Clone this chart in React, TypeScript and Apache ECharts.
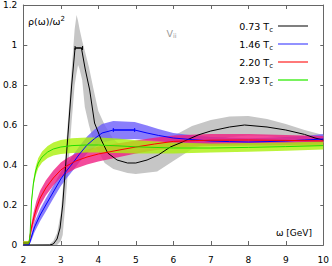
import React, { useEffect, useRef } from 'react';
import * as echarts from 'echarts';

const FONT = 'DejaVu Sans';

// 0.73 Tc (black line, gray band)
const x073 = [2.0, 2.5, 2.7, 2.8, 2.9, 2.98, 3.05, 3.13, 3.21, 3.29, 3.38, 3.55, 3.65, 3.77, 3.9, 4.08, 4.25, 4.5, 4.78, 5.0, 5.3, 5.6, 5.92, 6.18, 6.66, 7.0, 7.5, 7.9, 8.5, 9.0, 9.5, 9.78, 10];
const mid073 = [0, 0, 0, 0.005, 0.03, 0.085, 0.2, 0.4, 0.6, 0.8, 0.985, 0.985, 0.88, 0.775, 0.61, 0.525, 0.46, 0.425, 0.41, 0.41, 0.425, 0.45, 0.49, 0.51, 0.55, 0.57, 0.59, 0.6, 0.59, 0.575, 0.553, 0.535, 0.525];
const bandX073 = [2.0, 2.7, 2.8, 2.9, 3.0, 3.05, 3.13, 3.21, 3.29, 3.37, 3.42, 3.46, 3.5, 3.57, 3.64, 3.75, 3.86, 4.0, 4.17, 4.4, 4.78, 5.0, 5.57, 6.0, 6.5, 7.0, 7.5, 8.0, 8.5, 9.0, 9.5, 10];
const lo073 = [0, 0, 0, 0, 0.02, 0.05, 0.22, 0.42, 0.62, 0.8, 0.86, 0.9, 0.88, 0.825, 0.69, 0.6, 0.525, 0.47, 0.41, 0.38, 0.36, 0.355, 0.367, 0.42, 0.48, 0.515, 0.54, 0.548, 0.545, 0.535, 0.52, 0.51];
const hi073 = [0, 0.005, 0.02, 0.06, 0.16, 0.27, 0.47, 0.67, 0.88, 1.08, 1.15, 1.12, 1.08, 1.02, 0.97, 0.89, 0.79, 0.67, 0.6, 0.53, 0.47, 0.465, 0.49, 0.545, 0.595, 0.625, 0.643, 0.645, 0.63, 0.605, 0.575, 0.55];

// 1.46 Tc (blue)
const x146 = [2.0, 2.15, 2.2, 2.3, 2.45, 2.6, 2.8, 3.0, 3.15, 3.3, 3.5, 3.7, 3.9, 4.1, 4.4, 4.97, 5.3, 5.6, 6.0, 6.5, 7.0, 7.5, 8.0, 8.5, 9.0, 9.5, 10];
const mid146 = [0, 0, 0.03, 0.09, 0.15, 0.2, 0.265, 0.33, 0.37, 0.405, 0.455, 0.5, 0.532, 0.56, 0.575, 0.575, 0.56, 0.548, 0.535, 0.527, 0.52, 0.517, 0.515, 0.517, 0.52, 0.525, 0.53];
const lo146 = [0, 0, 0.015, 0.065, 0.12, 0.168, 0.232, 0.295, 0.333, 0.367, 0.415, 0.457, 0.487, 0.512, 0.525, 0.53, 0.525, 0.52, 0.51, 0.505, 0.5, 0.498, 0.497, 0.498, 0.5, 0.505, 0.51];
const hi146 = [0, 0.005, 0.045, 0.115, 0.18, 0.232, 0.298, 0.365, 0.407, 0.443, 0.495, 0.543, 0.577, 0.605, 0.62, 0.615, 0.597, 0.58, 0.56, 0.549, 0.54, 0.536, 0.534, 0.536, 0.54, 0.545, 0.555];

// 2.20 Tc (red)
const x220 = [2.0, 2.15, 2.2, 2.27, 2.35, 2.45, 2.6, 2.8, 3.0, 3.15, 3.4, 3.7, 4.0, 4.5, 5.0, 5.5, 6.0, 6.6, 7.0, 8.0, 9.0, 10];
const mid220 = [0.01, 0.01, 0.07, 0.13, 0.185, 0.235, 0.285, 0.335, 0.375, 0.395, 0.42, 0.44, 0.455, 0.473, 0.49, 0.505, 0.518, 0.522, 0.524, 0.525, 0.523, 0.52];
const lo220 = [0, 0, 0.05, 0.1, 0.15, 0.197, 0.247, 0.297, 0.337, 0.357, 0.382, 0.402, 0.418, 0.438, 0.457, 0.474, 0.488, 0.492, 0.495, 0.497, 0.497, 0.497];
const hi220 = [0.02, 0.02, 0.09, 0.16, 0.22, 0.273, 0.323, 0.373, 0.413, 0.433, 0.458, 0.478, 0.492, 0.508, 0.523, 0.536, 0.548, 0.552, 0.555, 0.555, 0.55, 0.545];

// 2.93 Tc (green)
const x293 = [2.0, 2.15, 2.18, 2.22, 2.27, 2.33, 2.4, 2.5, 2.65, 2.8, 3.0, 3.3, 3.7, 4.0, 4.5, 5.0, 6.0, 7.0, 8.0, 9.0, 10];
const mid293 = [0.01, 0.01, 0.05, 0.22, 0.31, 0.37, 0.41, 0.44, 0.465, 0.48, 0.49, 0.497, 0.5, 0.5, 0.496, 0.491, 0.485, 0.485, 0.488, 0.492, 0.497];
const lo293 = [0, 0, 0.04, 0.205, 0.292, 0.348, 0.385, 0.412, 0.435, 0.447, 0.455, 0.46, 0.462, 0.462, 0.46, 0.458, 0.458, 0.462, 0.466, 0.471, 0.477];
const hi293 = [0.02, 0.02, 0.06, 0.235, 0.328, 0.392, 0.435, 0.468, 0.495, 0.513, 0.525, 0.534, 0.538, 0.538, 0.532, 0.524, 0.512, 0.508, 0.51, 0.513, 0.517];

// horizontal error bars
const errLo073 = [3.38];
const errHi073 = [3.58];
const errY073 = [0.985];
const errLo146 = [4.4];
const errHi146 = [4.97];
const errY146 = [0.575];

const names = ['0.73 Tc', '1.46 Tc', '2.20 Tc', '2.93 Tc'];

const pairs = (xs: number[], ys: number[]) => xs.map((x, i) => [x, ys[i]]);

function band(id: string, xs: number[], lo: number[], hi: number[], color: string, z: number) {
  return {
    type: 'custom', name: id, z, silent: true, clip: true,
    data: xs.map((x, i) => [x, lo[i], hi[i]]),
    encode: { x: 0, y: [1, 2] },
    renderItem: (params: any, api: any) => {
      if (params.dataIndexInside !== 0) return null;
      const n = params.dataInsideLength;
      const top: number[][] = [];
      const bot: number[][] = [];
      for (let i = 0; i < n; i++) {
        top.push(api.coord([api.value(0, i), api.value(2, i)]));
        bot.push(api.coord([api.value(0, i), api.value(1, i)]));
      }
      return {
        type: 'polygon',
        shape: { points: top.concat(bot.reverse()) },
        style: { fill: color, stroke: 'none' },
      };
    },
  };
}

function line(name: string, xs: number[], ys: number[], color: string) {
  return {
    type: 'line', name, data: pairs(xs, ys), symbol: 'none', z: 5,
    lineStyle: { color, width: 1 }, itemStyle: { color },
  };
}

function errBars(name: string, lo: number[], hi: number[], y: number[], color: string) {
  return {
    type: 'custom', name, z: 6, silent: true,
    data: lo.map((l, i) => [l, hi[i], y[i]]),
    encode: { x: [0, 1], y: 2 },
    itemStyle: { color },
    renderItem: (params: any, api: any) => {
      const p1 = api.coord([api.value(0), api.value(2)]);
      const p2 = api.coord([api.value(1), api.value(2)]);
      const st = { stroke: color, lineWidth: 1 };
      return {
        type: 'group',
        children: [
          { type: 'line', shape: { x1: p1[0], y1: p1[1], x2: p2[0], y2: p2[1] }, style: st },
          { type: 'line', shape: { x1: p1[0], y1: p1[1] - 2, x2: p1[0], y2: p1[1] + 2 }, style: st },
          { type: 'line', shape: { x1: p2[0], y1: p2[1] - 2, x2: p2[0], y2: p2[1] + 2 }, style: st },
        ],
      };
    },
  };
}

const axisCommon = {
  axisLine: { show: true, onZero: false, lineStyle: { color: '#666', width: 1 } },
  axisTick: { show: true, inside: true, length: 4, lineStyle: { color: '#666' } },
  splitLine: { show: false },
};

export default function App() {
  const ref = useRef<HTMLDivElement>(null);
  useEffect(() => {
    if (!ref.current) return;
    const chart = echarts.init(ref.current, undefined, { renderer: 'svg' });
    chart.setOption({
      animation: false,
      backgroundColor: '#fff',
      textStyle: { fontFamily: FONT },
      grid: { left: 21, right: 7, top: 5, bottom: 21 },
      xAxis: [
        {
          type: 'value', min: 2, max: 10, interval: 1, position: 'bottom', ...axisCommon,
          axisLabel: { color: '#000', fontSize: 9, fontFamily: FONT, margin: 10 },
        },
        {
          type: 'value', min: 2, max: 10, interval: 1, position: 'top', ...axisCommon,
          axisLabel: { show: false },
        },
      ],
      yAxis: [
        {
          type: 'value', min: 0, max: 1.2, interval: 0.2, position: 'left', ...axisCommon,
          axisLabel: {
            color: '#000', fontSize: 9, fontFamily: FONT, margin: 6,
            formatter: (v: number) => String(Math.round(v * 10) / 10),
          },
        },
        {
          type: 'value', min: 0, max: 1.2, interval: 0.2, position: 'right', ...axisCommon,
          axisTick: { show: true, inside: true, length: 3, lineStyle: { color: '#666' } },
          axisLabel: { show: false },
        },
      ],
      legend: {
        orient: 'vertical', right: 19, top: 16, align: 'right', z: 10,
        itemWidth: 30, itemHeight: 1.5, itemGap: 6, selectedMode: false, icon: 'rect',
        itemStyle: { borderWidth: 0 },
        data: [
          { name: names[0], itemStyle: { color: '#555', borderWidth: 0 } },
          { name: names[1], itemStyle: { color: '#6e6eff', borderWidth: 0 } },
          { name: names[2], itemStyle: { color: '#ff4c4c', borderWidth: 0 } },
          { name: names[3], itemStyle: { color: '#4cee28', borderWidth: 0 } },
        ],
        formatter: (name: string) => `{n|${name.replace(' Tc', ' T')}}{s|c}`,
        textStyle: {
          color: '#000', fontFamily: FONT,
          rich: {
            n: { fontSize: 9.5, lineHeight: 14, fontFamily: FONT, color: '#000' },
            s: { fontSize: 7, lineHeight: 6, verticalAlign: 'bottom', fontFamily: FONT, color: '#000' },
          },
        },
      },
      graphic: [
        {
          type: 'text', x: 28, y: 21, z: 10,
          style: {
            text: '{a|ρ(ω)/ω}{b|2}', verticalAlign: 'middle', align: 'left',
            rich: {
              a: { fontSize: 9.5, lineHeight: 12, fontFamily: FONT, fill: '#000' },
              b: { fontSize: 7, lineHeight: 8, verticalAlign: 'top', fontFamily: FONT, fill: '#000' },
            },
          },
        },
        {
          type: 'text', x: 166.5, y: 33, z: 10,
          style: {
            text: '{a|V}{b|ii}', verticalAlign: 'middle', align: 'left',
            rich: {
              a: { fontSize: 9.5, lineHeight: 12, fontFamily: FONT, fill: '#999' },
              b: { fontSize: 6.5, lineHeight: 6, verticalAlign: 'bottom', fontFamily: FONT, fill: '#999' },
            },
          },
        },
        {
          type: 'text', x: 312, y: 233, z: 10,
          style: { text: 'ω [GeV]', fontSize: 9, fontFamily: FONT, fill: '#000', align: 'right', verticalAlign: 'middle' },
        },
      ],
      series: [
        band('b073', bandX073, lo073, hi073, '#c6c6c6', 1),
        band('b146', x146, lo146, hi146, 'rgba(105,90,250,0.78)', 2),
        band('b220', x220, lo220, hi220, 'rgba(240,30,130,0.8)', 3),
        band('b293', x293, lo293, hi293, 'rgba(170,240,10,0.8)', 4),
        line(names[0], x073, mid073, '#000'),
        line(names[1], x146, mid146, '#0000ff'),
        line(names[2], x220, mid220, '#ff0000'),
        line(names[3], x293, mid293, '#22dd00'),
        errBars('err073', errLo073, errHi073, errY073, '#000'),
        errBars('err146', errLo146, errHi146, errY146, '#0000ff'),
      ],
    });
    return () => chart.dispose();
  }, []);
  return <div ref={ref} style={{ position: 'fixed', left: 0, top: 0, width: 332, height: 266 }} />;
}
